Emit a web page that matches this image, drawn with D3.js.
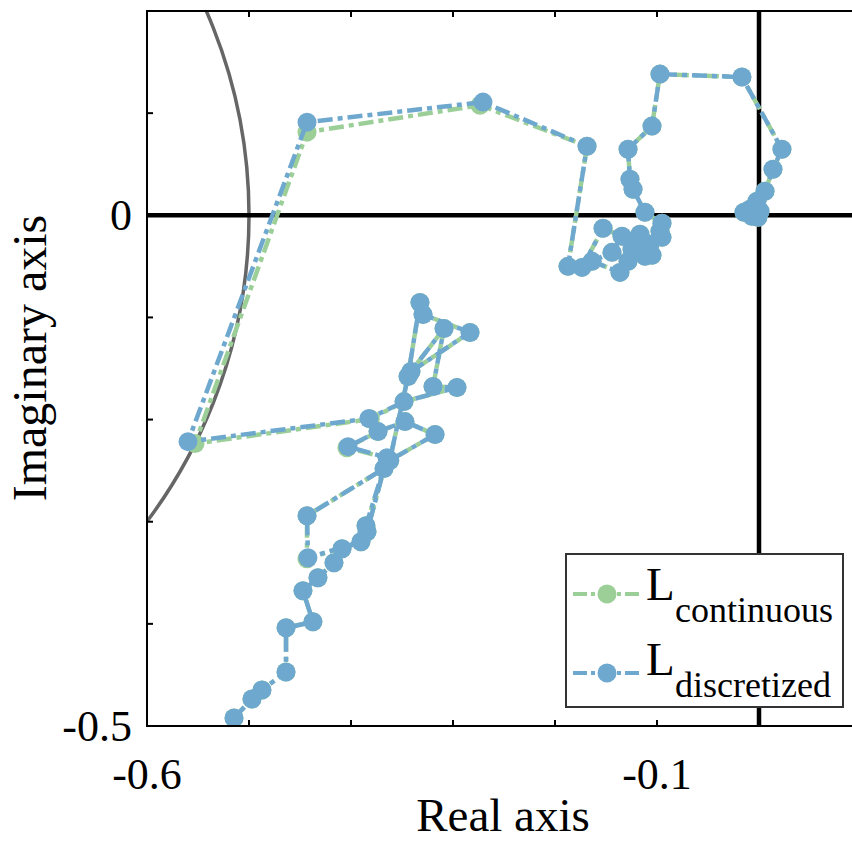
<!DOCTYPE html>
<html>
<head>
<meta charset="utf-8">
<script src="https://cdn.jsdelivr.net/npm/d3@7"></script>
<style>
  html, body { margin: 0; padding: 0; background: #fff; }
  svg { display: block; }
  text { font-family: "Liberation Serif", "Times New Roman", serif; fill: #000; }
</style>
</head>
<body>
<svg id="chart" width="852" height="842"></svg>
<script>
// ---------------- data ----------------
const seriesNames = ["continuous", "discretized"];

// L_discretized (blue) : real parts
const discRe = [-0.5147,-0.4971,-0.4873,-0.4637,-0.4637,-0.4373,-0.4471,-0.4324,-0.4167,-0.4088,
  -0.3902,-0.4422,-0.4431,-0.3676,-0.3843,-0.3853,-0.3647,-0.4029,-0.3735,-0.3471,
  -0.3176,-0.3620,-0.3441,-0.3324,-0.3294,-0.2833,-0.3412,-0.3088,-0.3196,-0.2961,
  -0.3480,-0.3824,-0.5598,-0.4431,-0.2706,-0.1686,-0.1873,-0.1735,-0.1529,-0.1343,
  -0.1441,-0.1637,-0.1363,-0.1284,-0.1245,-0.1167,-0.1186,-0.1118,-0.1049,-0.1069,
  -0.0951,-0.0971,-0.0951,
  -0.1118,-0.1235,-0.1265,-0.1284,-0.1049,-0.0971,-0.0167,0.0225,0.0137,0.0059,
  -0.0020,-0.0088,-0.0147,-0.0069,-0.0010,0.0010];
// L_discretized (blue) : imaginary parts
const discIm = [-0.4922,-0.4735,-0.4647,-0.4471,-0.4039,-0.3980,-0.3676,-0.3549,-0.3402,-0.3265,
  -0.3196,-0.3353,-0.2941,-0.2480,-0.3098,-0.3039,-0.2373,-0.2265,-0.2118,-0.2020,
  -0.2147,-0.2400,-0.1578,-0.0853,-0.0971,-0.1147,-0.1529,-0.1108,-0.1676,-0.1686,
  -0.1824,-0.1990,-0.2216,0.0912,0.1108,0.0676,-0.0500,-0.0510,-0.0127,-0.0206,
  -0.0363,-0.0451,-0.0559,-0.0451,-0.0333,-0.0186,-0.0284,-0.0402,-0.0392,-0.0284,
  -0.0216,-0.0157,-0.0078,
  0.0029,0.0255,0.0353,0.0647,0.0873,0.1382,0.1353,0.0647,0.0451,0.0235,
  0.0137,0.0059,0.0029,-0.0010,-0.0020,0.0039];

// L_continuous (green) : real parts
const contRe = [-0.5147,-0.4971,-0.4873,-0.4637,-0.4637,-0.4373,-0.4471,-0.4324,-0.4167,-0.4088,
  -0.3902,-0.4432,-0.4431,-0.3676,-0.3843,-0.3853,-0.3640,-0.4040,-0.3735,-0.3471,
  -0.3176,-0.3620,-0.3441,-0.3324,-0.3294,-0.2833,-0.3412,-0.3088,-0.3196,-0.2961,
  -0.3480,-0.3810,-0.5529,-0.4431,-0.2735,-0.1686,-0.1873,-0.1735,-0.1529,-0.1343,
  -0.1441,-0.1637,-0.1363,-0.1284,-0.1245,-0.1167,-0.1186,-0.1118,-0.1049,-0.1069,
  -0.0951,-0.0971,-0.0951,
  -0.1118,-0.1235,-0.1265,-0.1284,-0.1049,-0.0971,-0.0167,0.0225,0.0137,0.0059,
  -0.0020,-0.0088,-0.0147,-0.0069,-0.0010,0.0010];
// L_continuous (green) : imaginary parts
const contIm = [-0.4922,-0.4735,-0.4647,-0.4471,-0.4039,-0.3980,-0.3676,-0.3549,-0.3402,-0.3265,
  -0.3196,-0.3363,-0.2941,-0.2480,-0.3098,-0.3039,-0.2380,-0.2275,-0.2118,-0.2020,
  -0.2147,-0.2400,-0.1578,-0.0853,-0.0971,-0.1147,-0.1529,-0.1108,-0.1676,-0.1686,
  -0.1824,-0.1995,-0.2235,0.0814,0.1078,0.0676,-0.0500,-0.0510,-0.0127,-0.0206,
  -0.0363,-0.0451,-0.0559,-0.0451,-0.0333,-0.0186,-0.0284,-0.0402,-0.0392,-0.0284,
  -0.0216,-0.0157,-0.0078,
  0.0029,0.0255,0.0353,0.0647,0.0873,0.1382,0.1353,0.0647,0.0451,0.0235,
  0.0137,0.0059,0.0029,-0.0010,-0.0020,0.0039];

// reference circle: centre and radius
const circleCenter = [-1, 0];
const circleRadius = 0.5;

const xDomain = [-0.6, 0.1];
const yDomain = [-0.5, 0.2];
const xTicks = [-0.6, -0.5, -0.4, -0.3, -0.2, -0.1, 0, 0.1];
const yTicks = [-0.5, -0.4, -0.3, -0.2, -0.1, 0, 0.1, 0.2];
const xTickLabels = {"-0.6": "-0.6", "-0.1": "-0.1"};
const yTickLabels = {"-0.5": "-0.5", "0": "0"};

// ---------------- drawing ----------------
(function () {
const svg = d3.select("#chart");
const pL = 147, pR = 861, pT = 11, pB = 726;

const x = d3.scaleLinear().domain(xDomain).range([pL, pR]);
const y = d3.scaleLinear().domain(yDomain).range([pB, pT]);

const colors = { continuous: "#9ccf98", discretized: "#6ea8cf" };

svg.append("defs").append("clipPath").attr("id", "plotclip")
  .append("rect").attr("x", pL).attr("y", pT)
  .attr("width", pR - pL).attr("height", pB - pT);

const plot = svg.append("g").attr("clip-path", "url(#plotclip)");

// gray circle
plot.append("circle")
  .attr("cx", x(circleCenter[0])).attr("cy", y(circleCenter[1]))
  .attr("r", x(circleCenter[0] + circleRadius) - x(circleCenter[0]))
  .attr("fill", "none").attr("stroke", "#666666").attr("stroke-width", 3.5);

// zero lines
plot.append("line").attr("x1", pL).attr("x2", pR)
  .attr("y1", y(0)).attr("y2", y(0)).attr("stroke", "#000").attr("stroke-width", 4.5);
plot.append("line").attr("x1", x(0)).attr("x2", x(0))
  .attr("y1", pT).attr("y2", pB).attr("stroke", "#000").attr("stroke-width", 4.5);

const dash = "15,5,5,5";
const lineGen = d3.line().x(d => x(d[0])).y(d => y(d[1]));

function drawSeries(re, im, color) {
  const pts = re.map((v, i) => [v, im[i]]);
  const g = plot.append("g");
  g.append("path").datum(pts).attr("d", lineGen)
    .attr("fill", "none").attr("stroke", color).attr("stroke-width", 4.5)
    .attr("stroke-dasharray", dash).attr("stroke-linejoin", "round");
  g.selectAll("circle").data(pts).join("circle")
    .attr("cx", d => x(d[0])).attr("cy", d => y(d[1])).attr("r", 9.5)
    .attr("fill", color);
}
drawSeries(contRe, contIm, colors.continuous);
drawSeries(discRe, discIm, colors.discretized);

// axes spines
const axG = svg.append("g");
axG.append("path")
  .attr("d", `M${pR},${pT}H${pL}V${pB}H${pR}`)
  .attr("fill", "none").attr("stroke", "#000").attr("stroke-width", 2);
axG.append("line").attr("x1", pR).attr("x2", pR).attr("y1", pT).attr("y2", pB)
  .attr("stroke", "#000").attr("stroke-width", 2);

// ticks (inward)
const tl = 6;
xTicks.forEach(t => {
  axG.append("line").attr("x1", x(t)).attr("x2", x(t)).attr("y1", pB).attr("y2", pB - tl)
    .attr("stroke", "#000").attr("stroke-width", 2);
  axG.append("line").attr("x1", x(t)).attr("x2", x(t)).attr("y1", pT).attr("y2", pT + tl)
    .attr("stroke", "#000").attr("stroke-width", 2);
  const lab = xTickLabels[String(t)];
  if (lab) axG.append("text").attr("x", x(t)).attr("y", pB + 63)
    .attr("text-anchor", "middle").attr("font-size", 44).text(lab);
});
yTicks.forEach(t => {
  axG.append("line").attr("x1", pL).attr("x2", pL + tl).attr("y1", y(t)).attr("y2", y(t))
    .attr("stroke", "#000").attr("stroke-width", 2);
  const lab = yTickLabels[String(t)];
  if (lab) axG.append("text").attr("x", pL - 15).attr("y", y(t) + 15)
    .attr("text-anchor", "end").attr("font-size", 44).text(lab);
});

// axis labels
svg.append("text").attr("x", 503).attr("y", 831)
  .attr("text-anchor", "middle").attr("font-size", 47).text("Real axis");
svg.append("text").attr("transform", `translate(46,358) rotate(-90)`)
  .attr("text-anchor", "middle").attr("font-size", 48).text("Imaginary axis");

// legend
const lg = svg.append("g");
lg.append("rect").attr("x", 566).attr("y", 554).attr("width", 277).attr("height", 153)
  .attr("fill", "#fff").attr("stroke", "#333").attr("stroke-width", 2);
const legendRows = [
  { name: "continuous", cy: 594, base: 600, sub: 622 },
  { name: "discretized", cy: 673, base: 675, sub: 697 }
];
legendRows.forEach(r => {
  const c = colors[r.name];
  lg.append("line").attr("x1", 573).attr("x2", 641).attr("y1", r.cy).attr("y2", r.cy)
    .attr("stroke", c).attr("stroke-width", 4).attr("stroke-dasharray", "14,4,4,4");
  lg.append("circle").attr("cx", 607).attr("cy", r.cy).attr("r", 9.5).attr("fill", c);
  lg.append("text").attr("x", 646).attr("y", r.base).attr("font-size", 47).text("L");
  lg.append("text").attr("x", 675).attr("y", r.sub).attr("font-size", 36).text(r.name);
});
})();
</script>
</body>
</html>
